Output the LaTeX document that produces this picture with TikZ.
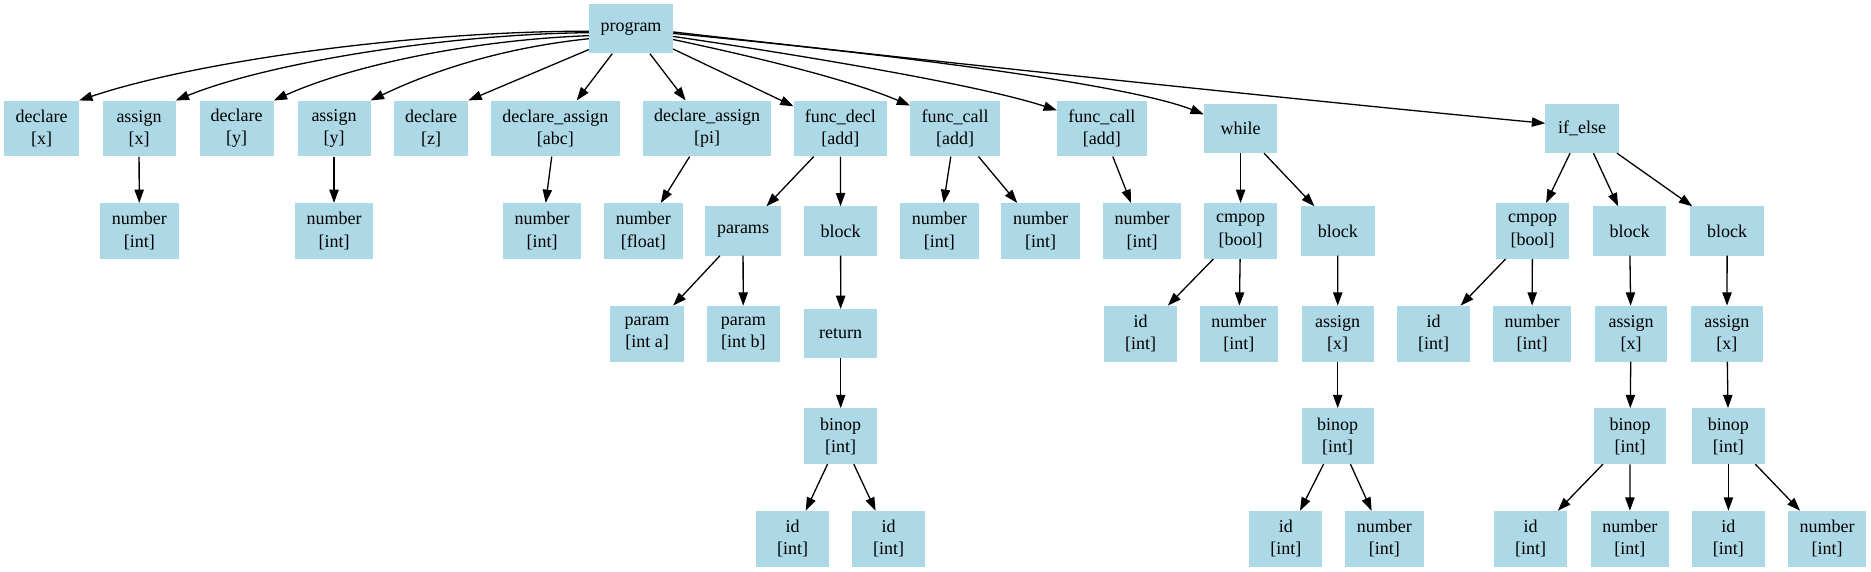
\documentclass[tikz,border=0pt]{standalone}
\usepackage{fontspec}
\setmainfont{Liberation Serif}
\usetikzlibrary{arrows.meta}
\definecolor{lb}{HTML}{ADD8E6}
\begin{document}
\begin{tikzpicture}[x=1pt,y=1pt,
  box/.style={fill=lb, inner sep=0pt, minimum width=73.2pt, minimum height=49pt, align=center,
    font=\fontsize{18}{22.3}\selectfont},
  tall/.style={minimum height=55.7pt},
  arr/.style={line width=1.3pt, -{Triangle[length=13.3pt,width=9.3pt]}}]
\useasboundingbox (0,0) rectangle (1871,-572);
% row 0
\node[box, minimum width=84pt] (prog) at (631,-29) {program};
% row 1
\node[box,tall,minimum width=74.5pt] (dx) at (41.7,-128.5) {declare\\{}[x]};
\node[box,tall,minimum width=73pt] (ax) at (139,-128.5) {assign\\{}[x]};
\node[box,tall,minimum width=74pt] (dy) at (236.6,-128.5) {declare\\{}[y]};
\node[box,tall,minimum width=73pt] (ay) at (334,-128.5) {assign\\{}[y]};
\node[box,tall,minimum width=74pt] (dz) at (431.2,-128.5) {declare\\{}[z]};
\node[box,tall,minimum width=128.6pt] (daabc) at (555.4,-128.5) {declare\_assign\\{}[abc]};
\node[box,tall,minimum width=128.6pt] (dapi) at (707.1,-128.5) {declare\_assign\\{}[pi]};
\node[box,tall,minimum width=93.3pt] (fd) at (840.4,-128.5) {func\_decl\\{}[add]};
\node[box,tall,minimum width=89.7pt] (fc1) at (955.1,-128.5) {func\_call\\{}[add]};
\node[box,tall,minimum width=89.4pt] (fc2) at (1101.8,-128.5) {func\_call\\{}[add]};
\node[box] (wh) at (1240.6,-128.5) {while};
\node[box] (ie) at (1582,-128.5) {if\_else};
% row 2
\node[box,tall,minimum width=78.6pt] (n1) at (139.3,-231) {number\\{}[int]};
\node[box,tall,minimum width=78.6pt] (n2) at (334,-231) {number\\{}[int]};
\node[box,tall,minimum width=78.6pt] (n3) at (542,-231) {number\\{}[int]};
\node[box,tall,minimum width=78.6pt] (nf) at (643.3,-231) {number\\{}[float]};
\node[box,minimum width=75.4pt] (params) at (743,-231) {params};
\node[box] (fdblock) at (840.6,-231) {block};
\node[box,tall,minimum width=78.6pt] (fc1a) at (939.3,-231) {number\\{}[int]};
\node[box,tall,minimum width=78.6pt] (fc1b) at (1040.6,-231) {number\\{}[int]};
\node[box,tall,minimum width=78.6pt] (fc2a) at (1142,-231) {number\\{}[int]};
\node[box,tall] (wcmp) at (1240.6,-231) {cmpop\\{}[bool]};
\node[box,minimum width=73.6pt] (wblock) at (1337.8,-231) {block};
\node[box,tall,minimum width=72.8pt] (icmp) at (1532.5,-231) {cmpop\\{}[bool]};
\node[box,minimum width=73.6pt] (ib1) at (1629.6,-231) {block};
\node[box,minimum width=73.6pt] (ib2) at (1727.2,-231) {block};
% row 3
\node[box,tall,minimum width=73.3pt] (pa) at (647,-333.7) {param\\{}[int a]};
\node[box,tall,minimum width=73.3pt] (pb) at (743.3,-333.7) {param\\{}[int b]};
\node[box,minimum width=73.3pt] (ret) at (840.7,-333.7) {return};
\node[box,tall,minimum width=73.3pt] (wid) at (1140.5,-333.7) {id\\{}[int]};
\node[box,tall,minimum width=78.2pt] (wnum) at (1238.9,-333.7) {number\\{}[int]};
\node[box,tall,minimum width=72.2pt] (wasg) at (1337.7,-333.7) {assign\\{}[x]};
\node[box,tall] (iid) at (1433.6,-333.7) {id\\{}[int]};
\node[box,tall,minimum width=78.7pt] (inum) at (1532,-333.7) {number\\{}[int]};
\node[box,tall,minimum width=72.8pt] (ib1asg) at (1631,-333.7) {assign\\{}[x]};
\node[box,tall,minimum width=72.7pt] (ib2asg) at (1726.9,-333.7) {assign\\{}[x]};
% row 4
\node[box,tall,minimum width=73.3pt] (fbin) at (840.7,-436.2) {binop\\{}[int]};
\node[box,tall,minimum width=72.2pt] (wbin) at (1337.7,-436.2) {binop\\{}[int]};
\node[box,tall,minimum width=72.8pt] (b1bin) at (1630,-436.2) {binop\\{}[int]};
\node[box,tall,minimum width=72.7pt] (b2bin) at (1728.4,-436.2) {binop\\{}[int]};
% row 5
\node[box,tall,minimum width=73pt] (fid1) at (792.5,-538.8) {id\\{}[int]};
\node[box,tall,minimum width=73.3pt] (fid2) at (888.7,-538.8) {id\\{}[int]};
\node[box,tall,minimum width=72.7pt] (wid2) at (1285.8,-538.8) {id\\{}[int]};
\node[box,tall,minimum width=78.2pt] (wnum2) at (1384.4,-538.8) {number\\{}[int]};
\node[box,tall,minimum width=72.7pt] (b1id) at (1530.7,-538.8) {id\\{}[int]};
\node[box,tall,minimum width=78.1pt] (b1num) at (1629.8,-538.8) {number\\{}[int]};
\node[box,tall,minimum width=72.7pt] (b2id) at (1728.4,-538.8) {id\\{}[int]};
\node[box,tall,minimum width=78.2pt] (b2num) at (1827,-538.8) {number\\{}[int]};
% edges from program
\draw[arr] (prog.183.7) .. controls (420,-31) and (200,-60) .. (dx.north east);
\draw[arr] (prog.185.9) .. controls (450,-34) and (270,-62) .. (ax.north east);
\draw[arr] (prog.189.5) .. controls (470,-40) and (350,-66) .. (dy.north east);
\draw[arr] (prog.193.8) .. controls (500,-48) and (430,-72) .. (ay.north east);
\draw[arr] (prog.206.6) -- (dz.north east);
\draw[arr] (prog) -- (daabc);
\draw[arr] (prog) -- (dapi);
\draw[arr] (prog) -- (fd);
\draw[arr] (prog.346.2) .. controls (760,-58) and (850,-80) .. (fc1.153);
\draw[arr] (prog.350.5) .. controls (800,-55) and (980,-85) .. (fc2.158);
\draw[arr] (prog.354.1) .. controls (900,-55) and (1130,-85) .. (wh.159);
\draw[arr] (prog.356.3) .. controls (900,-58) and (1300,-100) .. (ie.172);
% other edges
\draw[arr] (ax) -- (n1);
\draw[arr] (ay) -- (n2);
\draw[arr] (daabc) -- (n3);
\draw[arr] (dapi) -- (nf);
\draw[arr] (fd) -- (params);
\draw[arr] (fd) -- (fdblock);
\draw[arr] (params) -- (pa);
\draw[arr] (params) -- (pb);
\draw[arr] (fdblock) -- (ret);
\draw[arr] (ret) -- (fbin);
\draw[arr] (fbin) -- (fid1);
\draw[arr] (fbin) -- (fid2);
\draw[arr] (fc1) -- (fc1a);
\draw[arr] (fc1) -- (fc1b);
\draw[arr] (fc2) -- (fc2a);
\draw[arr] (wh) -- (wcmp);
\draw[arr] (wh) -- (wblock);
\draw[arr] (wcmp) -- (wid);
\draw[arr] (wcmp) -- (wnum);
\draw[arr] (wblock) -- (wasg);
\draw[arr] (wasg) -- (wbin);
\draw[arr] (wbin) -- (wid2);
\draw[arr] (wbin) -- (wnum2);
\draw[arr] (ie) -- (icmp);
\draw[arr] (ie) -- (ib1);
\draw[arr] (ie) -- (ib2);
\draw[arr] (icmp) -- (iid);
\draw[arr] (icmp) -- (inum);
\draw[arr] (ib1) -- (ib1asg);
\draw[arr] (ib1asg) -- (b1bin);
\draw[arr] (b1bin) -- (b1id);
\draw[arr] (b1bin) -- (b1num);
\draw[arr] (ib2) -- (ib2asg);
\draw[arr] (ib2asg) -- (b2bin);
\draw[arr] (b2bin) -- (b2id);
\draw[arr] (b2bin) -- (b2num);
\end{tikzpicture}
\end{document}
